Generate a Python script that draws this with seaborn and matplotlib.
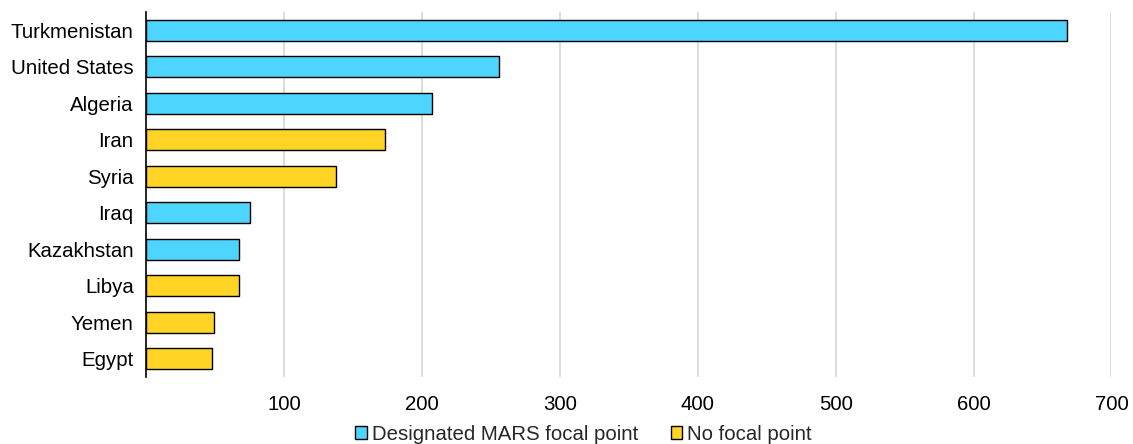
import pandas as pd
import matplotlib.pyplot as plt
from matplotlib.patches import Patch
import seaborn as sns

# Data
countries = ["Turkmenistan", "United States", "Algeria", "Iran", "Syria",
             "Iraq", "Kazakhstan", "Libya", "Yemen", "Egypt"]
values = [668, 256, 207, 173, 138, 75, 67, 67, 49, 48]
status = ["Designated MARS focal point", "Designated MARS focal point",
          "Designated MARS focal point", "No focal point", "No focal point",
          "Designated MARS focal point", "Designated MARS focal point",
          "No focal point", "No focal point", "No focal point"]
x_ticks = [100, 200, 300, 400, 500, 600, 700]

colors = {"Designated MARS focal point": "#4DD4FF", "No focal point": "#FFD424"}

df = pd.DataFrame({"Country": countries, "Value": values, "Status": status})

sns.set_style("white")
plt.rcParams['font.family'] = ['Liberation Sans', 'DejaVu Sans']
fs = 14.7

fig, ax = plt.subplots(figsize=(11.33, 4.44), dpi=100)
fig.subplots_adjust(left=0.129, right=0.981, top=0.973, bottom=0.151)

sns.barplot(data=df, x="Value", y="Country", hue="Status", palette=colors,
            saturation=1, dodge=False, width=0.58, edgecolor="black",
            linewidth=1.0, legend=False, ax=ax)

ax.set_xlim(0, 700)
ax.set_ylim(9.5, -0.5)
ax.set_xticks(x_ticks)
ax.set_xticklabels([str(t) for t in x_ticks])
ax.xaxis.grid(True, color="#D9D9D9", linewidth=1.3)
ax.set_axisbelow(True)
ax.set_xlabel("")
ax.set_ylabel("")
ax.tick_params(axis="both", length=0, labelsize=fs, colors="black")
ax.tick_params(axis="y", pad=9)
ax.tick_params(axis="x", pad=13)

for side in ["top", "right", "bottom"]:
    ax.spines[side].set_visible(False)
ax.spines["left"].set_color("black")
ax.spines["left"].set_linewidth(1.2)

handles = [Patch(facecolor=colors[k], edgecolor="black", linewidth=1.0, label=k)
           for k in colors]
fig.legend(handles=handles, loc="center", bbox_to_anchor=(0.515, 0.022), ncol=2,
           frameon=False, fontsize=fs, handlelength=0.55, handleheight=0.55,
           handletextpad=0.25, columnspacing=1.6, borderpad=0)

plt.savefig("out.png", dpi=100)
